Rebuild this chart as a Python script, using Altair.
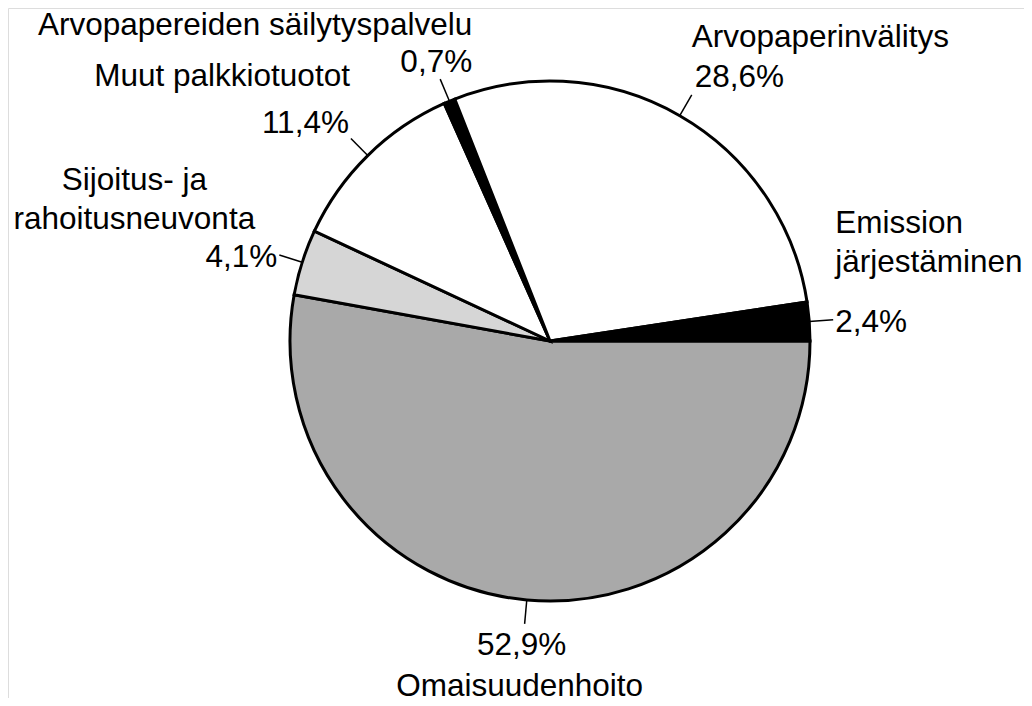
import math
import altair as alt
import pandas as pd

# ---- data ----
keys = ["oma", "sij", "muut", "sail", "arvo", "emi"]
names = [
    "Omaisuudenhoito",
    "Sijoitus- ja\nrahoitusneuvonta",
    "Muut palkkiotuotot",
    "Arvopapereiden säilytyspalvelu",
    "Arvopaperinvälitys",
    "Emission\njärjestäminen",
]
shares = [52.9, 4.1, 11.4, 0.7, 28.6, 2.4]
fills = ["#a9a9a9", "#d6d6d6", "#ffffff", "#000000", "#ffffff", "#000000"]

# ---- layout ----
W, H = 1016, 690
CX, CY = 542, 333          # pie centre inside the view (px)
R = 260                    # pie radius
R_OUT = 284                # leader line end
FONT = "Liberation Sans"
FS = 31.5

total = sum(shares)
rows = []
cum = 0.0
for k, n, v in zip(keys, names, shares):
    start, end = cum, cum + v
    cum = end
    mid = (start + end) / 2
    ang = math.pi / 2 + 2 * math.pi * mid / total
    rows.append(dict(
        key=k, name=n, share=v,
        pct=f"{v:.1f}".replace(".", ",") + "%",
        start=start, end=end,
        x1=R * math.sin(ang), y1=R * math.cos(ang),
        x2=R_OUT * math.sin(ang), y2=R_OUT * math.cos(ang),
        cx=0, cy=0,
    ))
df = pd.DataFrame(rows)

xs = alt.Scale(domain=[-CX, W - CX], range=[0, W], nice=False, zero=False)
ys = alt.Scale(domain=[-(H - CY), CY], range=[H, 0], nice=False, zero=False)

base = alt.Chart(df)

pie = base.mark_arc(outerRadius=R, stroke="black", strokeWidth=3).encode(
    theta=alt.Theta("start:Q", scale=alt.Scale(domain=[0, total], range=[math.pi / 2, math.pi / 2 + 2 * math.pi])),
    theta2="end:Q",
    x=alt.X("cx:Q", scale=xs, axis=None),
    y=alt.Y("cy:Q", scale=ys, axis=None),
    color=alt.Color("key:N", scale=alt.Scale(domain=keys, range=fills), legend=None),
)

leaders = base.mark_rule(color="black", strokeWidth=1.5).encode(
    x=alt.X("x1:Q", scale=xs, axis=None),
    y=alt.Y("y1:Q", scale=ys, axis=None),
    x2="x2:Q",
    y2="y2:Q",
)

# (key, field, dx, dy, align)
label_layout = [
    ("oma", "pct", -3, 31, "center"),
    ("oma", "name", -5, 72, "center"),
    ("sij", "pct", -2, 12, "right"),
    ("sij", "name", -145, -65, "center"),
    ("muut", "pct", -2, -5, "right"),
    ("muut", "name", -1, -52, "right"),
    ("sail", "pct", 32, -7, "right"),
    ("sail", "name", 32, -44, "right"),
    ("arvo", "pct", 3, -8, "left"),
    ("arvo", "name", 0, -48, "left"),
    ("emi", "pct", 2, 12, "left"),
    ("emi", "name", 2, -87, "left"),
]

texts = []
for k, field, dx, dy, al in label_layout:
    texts.append(
        base.transform_filter(alt.datum.key == k)
        .mark_text(font=FONT, fontSize=FS, color="black", align=al,
                   baseline="alphabetic", dx=dx, dy=dy, lineBreak="\n", lineHeight=39)
        .encode(
            x=alt.X("x2:Q", scale=xs, axis=None),
            y=alt.Y("y2:Q", scale=ys, axis=None),
            text=f"{field}:N",
        )
    )

chart = alt.layer(pie, leaders, *texts).properties(
    width=W, height=H,
    autosize=alt.AutoSizeParams(type="none"),
    padding=0,
).configure_view(strokeWidth=0).configure(background="white")

chart.save("out.html", embed_options={"renderer": "svg", "actions": False})
